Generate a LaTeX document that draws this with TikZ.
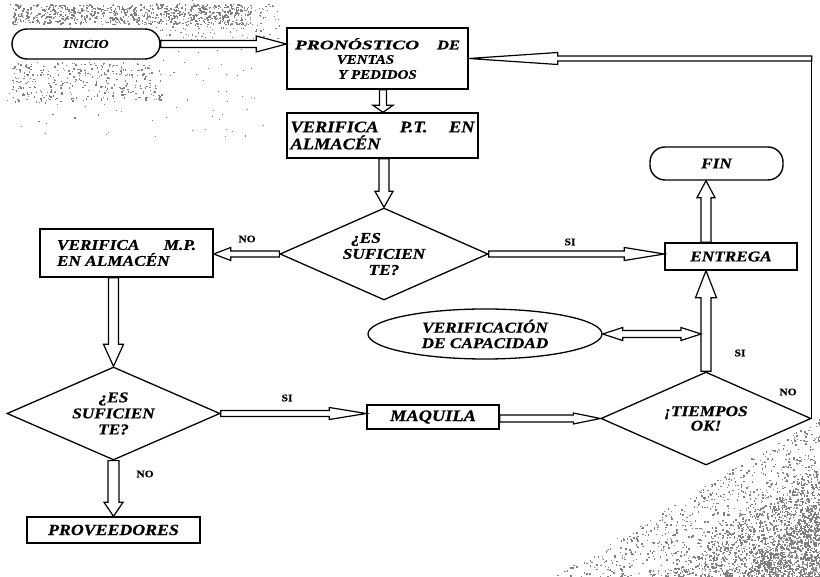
\documentclass[tikz,border=0pt]{standalone}
\usepackage{graphicx}
\usepackage{fontspec}
\setmainfont{Liberation Serif}[FakeStretch=1.15, BoldItalicFeatures={FakeBold=0.6}, BoldFeatures={FakeBold=0.6}]
\usetikzlibrary{shapes.geometric,calc}

\newcommand{\barrow}[5]{%
  \draw[blk] let \p1=(#1), \p2=(#2),
    \n1={veclen(\x2-\x1,\y2-\y1)}, \n2={atan2(\y2-\y1,\x2-\x1)} in
    [shift={(\p1)}, rotate=\n2]
    (0,-#3) -- ({\n1-#5},-#3) -- ({\n1-#5},-#4) -- (\n1,0) --
    ({\n1-#5},#4) -- ({\n1-#5},#3) -- (0,#3) -- cycle;}
\newcommand{\dbarrow}[5]{%
  \draw[blk] let \p1=(#1), \p2=(#2),
    \n1={veclen(\x2-\x1,\y2-\y1)}, \n2={atan2(\y2-\y1,\x2-\x1)} in
    [shift={(\p1)}, rotate=\n2]
    (0,0) -- (#5,-#4) -- (#5,-#3) -- ({\n1-#5},-#3) -- ({\n1-#5},-#4) -- (\n1,0) --
    ({\n1-#5},#4) -- ({\n1-#5},#3) -- (#5,#3) -- (#5,#4) -- cycle;}
% speckle in a triangle with right-angle corner (#1,#2), legs #3 (to the left) and #4 (upwards)
\newcommand{\specktri}[6]{%
  \foreach \i in {1,...,#5}{%
    \pgfmathsetmacro\su{rnd}\pgfmathsetmacro\sv{rnd}%
    \pgfmathsetmacro\uu{(\su+\sv>1) ? 1-\su : \su}%
    \pgfmathsetmacro\vv{(\su+\sv>1) ? 1-\sv : \sv}%
    \fill[noise] ({#1-#3*\uu},{#2-#4*\vv}) rectangle +(#6,#6);}}

\tikzset{
  txt/.style={font=\fontsize{15}{16}\selectfont\bfseries\itshape},
  box/.style={draw, line width=1.4pt, fill=white, inner sep=0pt, txt, align=center},
  term/.style={box, rounded corners=15pt},
  dec/.style={draw, diamond, line width=1.3pt, fill=white, inner sep=0pt, shape aspect=2.26,
    align=center, font=\fontsize{15}{16}\selectfont\bfseries\itshape},
  lbl/.style={font=\fontsize{10}{11}\selectfont\bfseries, inner sep=0pt},
  blk/.style={draw, fill=white, line width=1.2pt, line join=miter},
  plain/.style={draw, line width=1.4pt},
  noise/.style={fill=black!50},
}

\begin{document}
\begin{tikzpicture}[x=1pt, y=-1pt]
\fill[white] (0,0) rectangle (820,577);
\useasboundingbox (0,0) rectangle (820,577);

% scan speckle
\pgfmathsetseed{11}
\foreach \i in {1,...,700}{\fill[noise] ({12+240*rnd},{4+20*rnd}) rectangle +(1.5,1.5);}
\foreach \i in {1,...,160}{\fill[noise] ({150+130*rnd},{2+40*rnd}) rectangle +(1.2,1.2);}
\foreach \i in {1,...,320}{\fill[noise] ({12+150*rnd},{62+40*rnd}) rectangle +(1.4,1.4);}
\foreach \i in {1,...,110}{\fill[noise] ({5+260*rnd},{0+140*rnd}) rectangle +(1.1,1.1);}
\specktri{820}{577}{270}{160}{1100}{1.4}
\specktri{820}{577}{160}{110}{900}{1.5}
\specktri{820}{577}{80}{80}{500}{1.6}

% nodes
\node[term, minimum width=148pt, minimum height=30pt, font=\fontsize{12}{13}\selectfont\bfseries\itshape] (inicio) at (86,44) {INICIO};
\node[box, minimum width=181pt, minimum height=61pt, font=\fontsize{13}{15}\selectfont\bfseries\itshape] (pron) at (377.5,58.5)
  {\makebox[165pt][s]{\scalebox{1.3}[1]{PRONÓSTICO}\hfill\scalebox{1.1}[1]{DE}}\\[-0.5pt]\hspace*{-24pt}VENTAS\\Y PEDIDOS};
\node[box, minimum width=191pt, minimum height=45pt, align=left, font=\fontsize{16}{17}\selectfont\bfseries\itshape] (verifpt) at (382.5,135.5)
  {\makebox[184pt][s]{VERIFICA P.T. EN}\\ALMACÉN};
\node[dec, minimum width=208pt, minimum height=92pt] (d1) at (384,254) {\hspace*{-36pt}¿ES\\SUFICIEN\\TE?};
\node[box, minimum width=173pt, minimum height=48pt, align=left] (verifmp) at (126.5,253)
  {\makebox[139pt][s]{VERIFICA M.P.}\\EN ALMACÉN};
\node[box, minimum width=132pt, minimum height=27pt] (entrega) at (731,256.5) {ENTREGA};
\node[term, minimum width=133pt, minimum height=33pt] (fin) at (716.5,163.5) {FIN};
\node[draw, ellipse, line width=1.3pt, fill=white, inner sep=0pt, minimum width=234pt, minimum height=50pt,
  align=center, font=\fontsize{15}{15.5}\selectfont\bfseries\itshape] (capac) at (485,334) {VERIFICACIÓN\\DE CAPACIDAD};
\node[dec, minimum width=213pt, minimum height=93pt] (d2) at (113.5,413.5) {¿ES\\SUFICIEN\\TE?};
\node[box, minimum width=132pt, minimum height=24pt, font=\fontsize{16}{17}\selectfont\bfseries\itshape] (maquila) at (433,417) {MAQUILA};
\node[dec, minimum width=210pt, minimum height=93pt, font=\fontsize{15}{14.5}\selectfont\bfseries\itshape] (tiempos) at (706,418.5) {¡TIEMPOS\\OK!};
\node[box, minimum width=173pt, minimum height=26pt, font=\fontsize{15.5}{16}\selectfont\bfseries\itshape] (prov) at (113.5,530) {PROVEEDORES};

% connectors
\barrow{inicio.east}{pron.west |- inicio.east}{3.5}{8}{30}
\coordinate (lp) at (tiempos.east |- pron.east);
\draw[plain] (tiempos.east) -- ($(lp)+(0,-2.5)$);
\barrow{lp}{pron.east}{2.5}{6}{89}
\barrow{$(pron.south)+(5.5,0)$}{$(verifpt.north)+(0.5,0)$}{3.5}{10}{7}
\barrow{verifpt.south -| d1.north}{d1.north}{5}{9}{16}
\barrow{d1.west}{verifmp.east |- d1.west}{3}{6.5}{17}
\barrow{d1.east}{entrega.west |- d1.east}{3}{6.5}{40}
\barrow{verifmp.south -| d2.north}{d2.north}{5}{10}{22}
\barrow{d2.south}{prov.north}{5.5}{9.5}{14}
\barrow{d2.east}{maquila.west |- d2.east}{3}{6}{37}
\barrow{maquila.east |- tiempos.west}{tiempos.west}{3.5}{5.5}{27}
\barrow{tiempos.north}{entrega.south -| tiempos.north}{5}{10.5}{27}
\barrow{entrega.north -| tiempos.north}{fin.south -| tiempos.north}{5}{9}{17}
\dbarrow{capac.east}{$(capac.east -| tiempos.north)+(-5,0)$}{3.5}{6.5}{20}

% labels
\node[lbl] (no1) at (247,239) {NO};
\node[lbl] (si1) at (570,242) {SI};
\node[lbl] (si2) at (287,398) {SI};
\node[lbl] (no2) at (145,474) {NO};
\node[lbl] (si3) at (740,353) {SI};
\node[lbl] (no3) at (788,392) {NO};
\end{tikzpicture}
\end{document}
